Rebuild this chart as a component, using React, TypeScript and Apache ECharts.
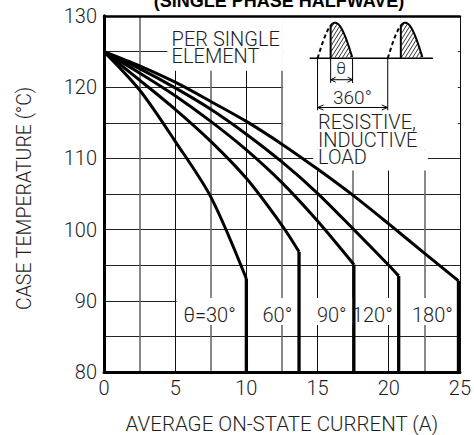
import React, { useEffect, useRef } from 'react';
import * as echarts from 'echarts';

// Derating curves: case temperature (°C) vs average on-state current (A)
const conductionAngles = ['θ=30°', '60°', '90°', '120°', '180°'];
const curve30: number[][] = [[0, 125], [2.5, 119.6], [5, 112.4], [7.5, 104.6], [10, 93.1]];
const curve60: number[][] = [[0, 125], [2.5, 121], [5, 116.9], [7.5, 112.4], [10, 107.2], [12.5, 100.6], [13.7, 96.9]];
const curve90: number[][] = [[0, 125], [2.5, 122], [5, 118.8], [7.5, 115.2], [10, 111.2], [12.5, 106.6], [15, 101.2], [17.55, 95.1]];
const curve120: number[][] = [[0, 125], [2.5, 122.6], [5, 119.9], [7.5, 116.9], [10, 113.4], [12.5, 109.5], [15, 105.1], [17.5, 100.1], [20, 95], [20.7, 93.5]];
const curve180: number[][] = [[0, 125], [2.5, 123], [5, 120.7], [7.5, 118], [10, 115.2], [12.5, 112], [15, 108.5], [17.5, 104.8], [20, 100.8], [22.5, 96.7], [24.9, 92.8]];
const xTicks = [0, 5, 10, 15, 20, 25];
const yTicks = [80, 90, 100, 110, 120, 130];

const FONT = 'Roboto, "Liberation Sans", Arial, sans-serif';
const WEIGHT = 300;
const INK = '#1e1e1e';

export default function App() {
  const ref = useRef<HTMLDivElement>(null);

  useEffect(() => {
    const chart = echarts.init(ref.current!, null, { renderer: 'svg' });
    const curves = [curve30, curve60, curve90, curve120, curve180];

    // white panels behind the annotations, interrupting the grid
    const panels = [
      [[4.45, 129.85], [12.57, 122.3]],
      [[12.58, 129.85], [24.85, 111.2]],
      [[14.7, 111.2], [22.75, 108.3]],
      [[5.1, 90.4], [24.85, 86.6]],
    ];

    const series: any[] = [
      {
        type: 'line',
        data: [],
        z: 1,
        silent: true,
        markArea: {
          silent: true,
          itemStyle: { color: '#ffffff', borderWidth: 0 },
          label: { show: false },
          data: panels.map(([a, b]) => [{ coord: a }, { coord: b }]),
        },
      },
    ];
    curves.forEach((c) => {
      const knee = c[c.length - 1];
      series.push({
        type: 'line', data: c, smooth: 0.3, symbol: 'none', z: 3,
        lineStyle: { color: '#000', width: 3 },
      });
      series.push({
        type: 'line', data: [knee, [knee[0], yTicks[0]]], symbol: 'none', z: 3,
        lineStyle: { color: '#000', width: 3.3 },
      });
    });

    const labelStyle = { fontFamily: FONT, fontWeight: WEIGHT, fontSize: 20, color: INK };
    chart.setOption({
      animation: false,
      backgroundColor: '#fff',
      grid: { left: 104, right: 14, top: 16, bottom: 63 },
      xAxis: [
        {
          type: 'value', min: xTicks[0], max: xTicks[xTicks.length - 1], interval: 5, position: 'bottom',
          axisLine: { show: true, lineStyle: { color: '#000', width: 3 } },
          axisTick: { show: false },
          axisLabel: { ...labelStyle, margin: 6, formatter: (v: number) => (xTicks.includes(v) ? String(v) : '') },
          splitLine: { show: true, lineStyle: { color: '#111', width: 1 } },
          minorTick: { show: false, splitNumber: 2 },
          minorSplitLine: { show: true, lineStyle: { color: '#6a6a6a', width: 1.6 } },
          z: 0,
        },
        {
          type: 'value', min: xTicks[0], max: xTicks[xTicks.length - 1], position: 'top',
          axisLine: { show: true, lineStyle: { color: '#000', width: 2.5 } },
          axisTick: { show: false }, axisLabel: { show: false }, splitLine: { show: false },
          z: 10,
        },
      ],
      yAxis: [
        {
          type: 'value', min: yTicks[0], max: yTicks[yTicks.length - 1], interval: 10, position: 'left',
          axisLine: { show: true, lineStyle: { color: '#000', width: 3 } },
          axisTick: { show: false },
          axisLabel: { ...labelStyle, margin: 7, formatter: (v: number) => (yTicks.includes(v) ? String(v) : '') },
          splitLine: { show: true, lineStyle: { color: '#222', width: 1.2 } },
          minorTick: { show: false, splitNumber: 2 },
          minorSplitLine: { show: true, lineStyle: { color: '#222', width: 1.2 } },
          z: 0,
        },
        {
          type: 'value', min: yTicks[0], max: yTicks[yTicks.length - 1], position: 'right',
          axisLine: { show: true, lineStyle: { color: '#000', width: 3 } },
          axisTick: { show: false }, axisLabel: { show: false }, splitLine: { show: false },
          z: 10,
        },
      ],
      series,
    });

    const P = (x: number, y: number) => chart.convertToPixel({ gridIndex: 0 }, [x, y]) as number[];
    const els: any[] = [];
    const poly = (points: number[][], style: any = {}) =>
      els.push({ type: 'polyline', silent: true, z: 6, shape: { points }, style: { stroke: '#000', fill: null, lineWidth: 2, ...style } });
    const text = (t: string, x: number, y: number, style: any, extra: any = {}) =>
      els.push({ type: 'text', silent: true, z: 6, x, y, ...extra, style: { text: t, fontFamily: FONT, fontWeight: WEIGHT, fill: INK, ...style } });

    // chart title, clipped at the top edge
    text('(SINGLE PHASE HALFWAVE)', 279, 0.5, { fontSize: 18, fontFamily: '"Liberation Sans", Arial, sans-serif', fontWeight: 'bold', fill: '#000', align: 'center', verticalAlign: 'middle' });

    // axis names
    text('AVERAGE ON-STATE CURRENT (A)', P(12.5, 80)[0], 424, { fontSize: 20.5, align: 'center', verticalAlign: 'middle' });
    text('CASE TEMPERATURE (°C)', 24, 198.5, { fontSize: 19.5, align: 'center', verticalAlign: 'middle' }, { rotation: Math.PI / 2 });

    // conduction angle labels
    const angleX = [7.42, 12.18, 16.0, 18.85, 23.07];
    conductionAngles.forEach((t, i) => {
      const [px, py] = P(angleX[i], 88.05);
      text(t, px, py, { fontSize: 20, align: 'center', verticalAlign: 'middle' });
    });

    // notes
    const [nx, ny] = P(4.75, 128.0);
    text('PER SINGLE\nELEMENT', nx, ny, { fontSize: 20, lineHeight: 16, align: 'left', verticalAlign: 'top' }, { scaleY: 1.05 });
    const [rx, ry] = P(15.03, 116.36);
    text('RESISTIVE,\nINDUCTIVE\nLOAD', rx, ry, { fontSize: 20, lineHeight: 16.7, align: 'left', verticalAlign: 'top' }, { scaleY: 1.05 });

    // half-wave waveform sketch
    const base = 124.05, amp = 5.0, width = 2.46, fire = 0.92;
    const starts = [15.0, 19.93];
    const [bx0, by] = P(14.45, base);
    const bx1 = P(23.1, base)[0];
    poly([[bx0, by], [bx1, by]], { lineWidth: 1.5 });
    const A = by - P(0, base + amp)[1];
    const humps = starts.map((s) => {
      const sx = P(s, base)[0], ex = P(s + width, base)[0], fx = P(s + fire, base)[0];
      const f = (x: number) => by - A * Math.sin((Math.PI * (x - sx)) / (ex - sx));
      const dashed: number[][] = [];
      for (let x = sx; x <= fx + 0.01; x += 0.5) dashed.push([x, f(x)]);
      poly(dashed, { lineWidth: 2, lineDash: [4, 3] });
      const solid: number[][] = [[fx, by]];
      for (let x = fx; x <= ex + 0.01; x += 0.5) solid.push([x, f(Math.min(x, ex))]);
      poly(solid, { lineWidth: 2 });
      // diagonal hatching inside the conducting part
      const m = 1.6;
      const cMin = f(fx) + m * fx, cMax = by + m * ex;
      for (let c = cMin + 3; c < cMax; c += 6) {
        let first: number[] | null = null, last: number[] | null = null;
        for (let x = fx + 0.6; x <= ex; x += 0.2) {
          const y = c - m * x;
          if (y <= by - 0.6 && y >= f(x) + 0.6) {
            if (!first) first = [x, y];
            last = [x, y];
          }
        }
        if (first && last) poly([first, last], { lineWidth: 0.8 });
      }
      return { sx, ex, fx };
    });

    // θ dimension
    const h0 = humps[0];
    const yExtTheta = P(0, 120.6)[1], yTheta = P(0, 121.05)[1];
    poly([[h0.fx, by], [h0.fx, yExtTheta]], { lineWidth: 1 });
    poly([[h0.ex, by], [h0.ex, yExtTheta]], { lineWidth: 1 });
    poly([[h0.fx, yTheta], [h0.ex, yTheta]], { lineWidth: 1 });
    poly([[h0.fx + 5, yTheta - 2.5], [h0.fx, yTheta], [h0.fx + 5, yTheta + 2.5]], { lineWidth: 1 });
    poly([[h0.ex - 5, yTheta - 2.5], [h0.ex, yTheta], [h0.ex - 5, yTheta + 2.5]], { lineWidth: 1 });
    const [tx, ty] = P(16.66, 122.65);
    text('θ', tx, ty, { fontSize: 17, align: 'center', verticalAlign: 'middle' });

    // 360° dimension
    const h1 = humps[1];
    const yExt = P(0, 116.76)[1], yArr = P(0, 117.15)[1];
    poly([[h0.sx, by], [h0.sx, yExt]], { lineWidth: 1 });
    poly([[h1.sx, by], [h1.sx, yExt]], { lineWidth: 1 });
    poly([[h0.sx, yArr], [h1.sx, yArr]], { lineWidth: 1 });
    poly([[h0.sx + 6, yArr - 2.5], [h0.sx, yArr], [h0.sx + 6, yArr + 2.5]], { lineWidth: 1 });
    poly([[h1.sx - 6, yArr - 2.5], [h1.sx, yArr], [h1.sx - 6, yArr + 2.5]], { lineWidth: 1 });
    const [dx, dy] = P(17.45, 118.5);
    text('360°', dx, dy, { fontSize: 19, align: 'center', verticalAlign: 'middle' });

    chart.setOption({ graphic: { elements: els } });

    return () => chart.dispose();
  }, []);

  return <div ref={ref} style={{ position: 'fixed', left: 0, top: 0, width: 474, height: 435, background: '#fff' }} />;
}
